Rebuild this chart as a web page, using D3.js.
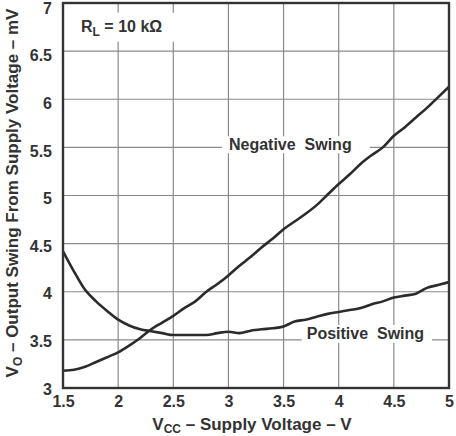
<!DOCTYPE html>
<html>
<head>
    <title>Output Swing vs Supply Voltage</title>
    <script src="https://cdn.jsdelivr.net/npm/d3@7"></script>
    <style>
        body { margin: 0; background: #fff; }
        text { font-family: "Liberation Sans", Arial, sans-serif; font-weight: bold; fill: #333; }
    </style>
</head>
<body>
<script>
    // values (Vcc in V, swing in mV)
    var vcc = [1.5, 1.6, 1.7, 1.8, 1.9, 2.0, 2.1, 2.2, 2.3, 2.4, 2.5, 2.6, 2.7, 2.8, 2.9, 3.0, 3.1, 3.2,
               3.3, 3.4, 3.5, 3.6, 3.7, 3.8, 3.9, 4.0, 4.1, 4.2, 4.3, 4.4, 4.5, 4.6, 4.7, 4.8, 4.9, 5.0];
    var negativeSwing = [3.18, 3.19, 3.22, 3.27, 3.32, 3.37, 3.44, 3.52, 3.61, 3.68, 3.75, 3.83, 3.90, 4.00, 4.08, 4.17, 4.27, 4.36,
                         4.46, 4.55, 4.65, 4.73, 4.81, 4.90, 5.01, 5.12, 5.22, 5.33, 5.42, 5.50, 5.62, 5.71, 5.81, 5.91, 6.02, 6.13];
    var positiveSwing = [4.42, 4.21, 4.02, 3.90, 3.80, 3.71, 3.65, 3.61, 3.59, 3.57, 3.55, 3.55, 3.55, 3.55, 3.57, 3.585, 3.57, 3.595,
                         3.61, 3.62, 3.64, 3.69, 3.71, 3.74, 3.77, 3.79, 3.81, 3.83, 3.87, 3.90, 3.94, 3.96, 3.98, 4.04, 4.07, 4.10];
    var xTicks = [1.5, 2, 2.5, 3, 3.5, 4, 4.5, 5];
    var yTicks = [3, 3.5, 4, 4.5, 5, 5.5, 6, 6.5, 7];

    var width = 456, height = 436;
    var margin = {left: 63, top: 3, right: 7, bottom: 48};
    var w = width - margin.left - margin.right;
    var h = height - margin.top - margin.bottom;

    var svg = d3.select("body").append("svg")
        .attr("width", width)
        .attr("height", height);
    var g = svg.append("g")
        .attr("transform", "translate(" + margin.left + "," + margin.top + ")");

    var x = d3.scaleLinear().domain([1.5, 5]).range([0, w]);
    var y = d3.scaleLinear().domain([3, 7]).range([h, 0]);
    // the tick labels in the original sit a little lower near the top
    var yLab = d3.scaleLinear().domain([3, 7]).range([h + 1, 5]);

    // grid
    g.selectAll(".vgrid")
        .data(xTicks.slice(1, -1))
        .enter().append("line")
        .attr("x1", d => x(d)).attr("x2", d => x(d))
        .attr("y1", 0).attr("y2", h)
        .attr("stroke", "#8a8a8a").attr("stroke-width", 1.2);
    g.selectAll(".hgrid")
        .data(yTicks.slice(1, -1))
        .enter().append("line")
        .attr("x1", 0).attr("x2", w)
        .attr("y1", d => y(d)).attr("y2", d => y(d))
        .attr("stroke", "#8a8a8a").attr("stroke-width", 1.2);

    // axes (labels only)
    var xAxis = g.append("g")
        .attr("transform", "translate(0," + h + ")")
        .call(d3.axisBottom(x).tickValues(xTicks).tickFormat(String).tickSize(0).tickPadding(8));
    var yAxis = g.append("g")
        .call(d3.axisLeft(yLab).tickValues(yTicks).tickFormat(String).tickSize(0).tickPadding(11));
    [xAxis, yAxis].forEach(function(a) {
        a.select(".domain").remove();
        a.selectAll("text")
            .attr("fill", "#333")
            .style("font-size", "16px")
            .style("font-family", "'Liberation Sans', Arial, sans-serif")
            .style("font-weight", "bold");
    });

    // labels with white boxes that break the grid
    function boxedLabel(tx, ty, padL, padR, padT, padB) {
        var t = g.append("text")
            .attr("x", tx).attr("y", ty)
            .style("font-size", "16px");
        var box = g.insert("rect", function() { return t.node(); });
        return {text: t, fit: function() {
            var b = t.node().getBBox();
            box.attr("x", b.x - padL).attr("y", b.y - padT)
                .attr("width", b.width + padL + padR)
                .attr("height", b.height + padT + padB)
                .attr("fill", "#fff");
        }};
    }

    var rl = boxedLabel(18, 28.7, 4, 14, 5, 3);
    rl.text.append("tspan").text("R");
    rl.text.append("tspan").attr("dy", 4).style("font-size", "12px").text("L");
    rl.text.append("tspan").attr("dy", -4).text("\u00a0= 10 k\u03a9");
    rl.fit();

    var neg = boxedLabel(x(3.005), y(5.47), 7, 18, 0, 0);
    neg.text.text("Negative\u00a0\u00a0Swing");
    neg.fit();

    var pos = boxedLabel(x(3.71), y(3.51), 5, 8, 0, 1);
    pos.text.text("Positive\u00a0\u00a0Swing");
    pos.fit();

    // curves
    var line = d3.line()
        .x(d => x(d[0]))
        .y(d => y(d[1]))
        .curve(d3.curveMonotoneX);
    [negativeSwing, positiveSwing].forEach(function(s) {
        g.append("path")
            .datum(d3.zip(vcc, s))
            .attr("d", line)
            .attr("fill", "none")
            .attr("stroke", "#2b2b2b")
            .attr("stroke-width", 2.6);
    });

    // frame
    g.append("rect")
        .attr("x", 0).attr("y", 0)
        .attr("width", w).attr("height", h)
        .attr("fill", "none")
        .attr("stroke", "#333")
        .attr("stroke-width", 2.4);

    // axis titles
    var xt = svg.append("text")
        .attr("x", 252).attr("y", 429.5)
        .attr("text-anchor", "middle")
        .style("font-size", "17px");
    xt.append("tspan").text("V");
    xt.append("tspan").attr("dy", 3).style("font-size", "12px").text("CC");
    xt.append("tspan").attr("dy", -3).text(" \u2013 Supply Voltage \u2013 V");

    var yt = svg.append("text")
        .attr("transform", "translate(18,193) rotate(-90)")
        .attr("text-anchor", "middle")
        .style("font-size", "17px");
    yt.append("tspan").text("V");
    yt.append("tspan").attr("dy", 4).style("font-size", "12px").text("O");
    yt.append("tspan").attr("dy", -4).text(" \u2013 Output Swing From Supply Voltage \u2013 mV");
</script>
</body>
</html>
